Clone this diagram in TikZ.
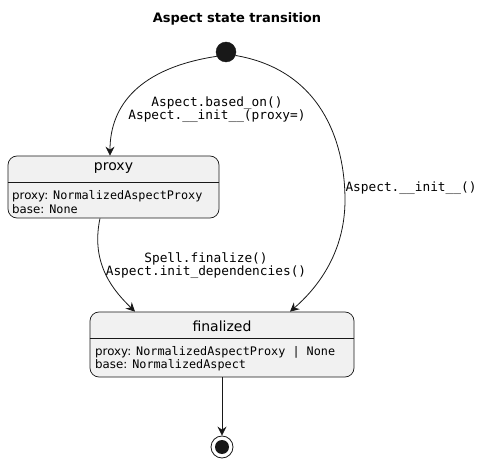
\documentclass[tikz,border=0pt]{standalone}
\usepackage{fontspec}
\setmainfont{DejaVu Sans}
\setsansfont{DejaVu Sans}
\setmonofont{DejaVu Sans Mono}
\usetikzlibrary{arrows.meta}
\definecolor{statefill}{HTML}{F1F1F1}
\definecolor{line}{HTML}{181818}
\tikzset{
  statebox/.style={draw=line, fill=statefill, rounded corners=9pt, line width=0.7pt, inner sep=0pt},
  hdr/.style={font=\fontsize{14}{16}\selectfont, inner sep=0pt},
  attr/.style={font=\fontsize{11.8}{13}\selectfont, inner sep=0pt, anchor=west},
  lbl/.style={font=\fontsize{12.8}{13}\selectfont\ttfamily, align=center, inner sep=0pt},
  conn/.style={draw=line, line width=0.8pt, -{Stealth[length=9pt,width=9pt,inset=3pt]}},
}
\begin{document}
\begin{tikzpicture}[x=1pt,y=-1pt]
\useasboundingbox (0,0) rectangle (485,465);
\node[font=\fontsize{13}{15}\selectfont\bfseries, inner sep=0pt] (title) at (237,19) {Aspect state transition};
% start
\node[circle, fill=line, draw=line, minimum size=20pt, inner sep=0pt] (start) at (226,52) {};
% proxy
\node[statebox, minimum width=211pt, minimum height=62pt] (proxy) at (113.5,187) {};
\node[hdr] (proxyh) at (113.5,168) {proxy};
\draw[draw=line, line width=0.7pt] (proxy.west |- 0,182) -- (proxy.east |- 0,182);
\node[attr] (proxya) at (12,196) {proxy: \texttt{NormalizedAspectProxy}};
\node[attr] (proxyb) at (12,209) {base: \texttt{None}};
% finalized
\node[statebox, minimum width=264pt, minimum height=65pt] (fin) at (222,344.5) {};
\node[hdr] (finh) at (222,326) {finalized};
\draw[draw=line, line width=0.7pt] (fin.west |- 0,338.5) -- (fin.east |- 0,338.5);
\node[attr] (fina) at (95,352) {proxy: \texttt{NormalizedAspectProxy | None}};
\node[attr] (finb) at (95,365) {base: \texttt{NormalizedAspect}};
% end
\node[circle, draw=line, fill=white, line width=0.8pt, minimum size=22pt, inner sep=0pt] (end) at (222,447) {};
\node[circle, fill=line, minimum size=14pt, inner sep=0pt] (endin) at (end) {};
% connectors
\draw[conn] (start.205) .. controls (140,68) and (110,105) .. (proxy.north -| 110,0);
\node[lbl] (l1) at (217,109.5) {Aspect.based\_on()\\Aspect.\_\_init\_\_(proxy=)};
\draw[conn] (start.-20) .. controls (320,70) and (345,140) .. (345,200) .. controls (345,255) and (315,290) .. (fin.north -| 290,0);
\node[lbl] (l2) at (411,188) {Aspect.\_\_init\_\_()};
\draw[conn] (proxy.south -| 100,0) .. controls (90,265) and (115,292) .. (fin.north -| 135,0);
\node[lbl] (l3) at (206,266) {Spell.finalize()\\Aspect.init\_dependencies()};
\draw[conn] (fin.south) -- (end.north);
\end{tikzpicture}
\end{document}
